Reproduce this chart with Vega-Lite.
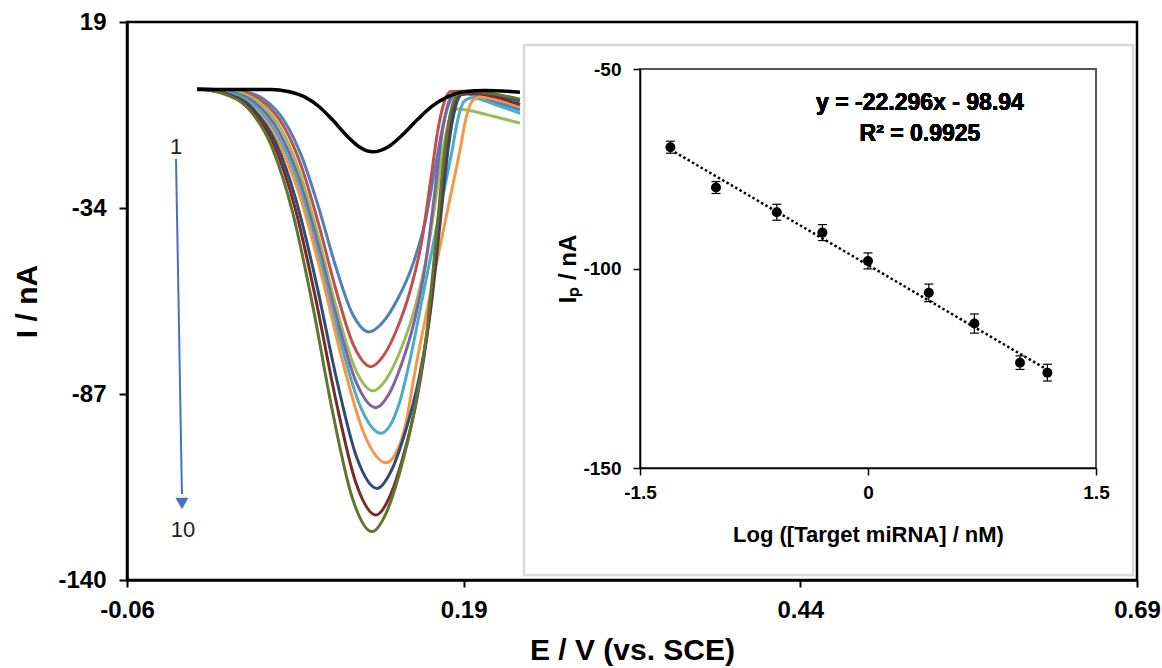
{
  "$schema": "https://vega.github.io/schema/vega-lite/v6.json",
  "width": 1010,
  "height": 558,
  "autosize": {"type": "none"},
  "padding": {"left": 127, "top": 22, "right": 25, "bottom": 88},
  "background": "white",
  "config": {
    "view": {"stroke": "black", "strokeWidth": 2.5},
    "font": "Liberation Sans",
    "axis": {"grid": false}
  },
  "datasets": {
    "curves": [
      {"s": 1, "E": -0.008, "I": 0}, {"s": 1, "E": 0.0259, "I": -0.8}, {"s": 1, "E": 0.0416, "I": -3.0}, {"s": 1, "E": 0.0572, "I": -9.4}, {"s": 1, "E": 0.0697, "I": -19.3}, {"s": 1, "E": 0.0822, "I": -33.7}, {"s": 1, "E": 0.0947, "I": -50.3}, {"s": 1, "E": 0.1072, "I": -64.0}, {"s": 1, "E": 0.1197, "I": -69.3}, {"s": 1, "E": 0.1301, "I": -66.5}, {"s": 1, "E": 0.1405, "I": -60.3}, {"s": 1, "E": 0.1524, "I": -49.9}, {"s": 1, "E": 0.1613, "I": -38.1}, {"s": 1, "E": 0.1687, "I": -22.9}, {"s": 1, "E": 0.1747, "I": -10.4}, {"s": 1, "E": 0.1791, "I": -4.2}, {"s": 1, "E": 0.1851, "I": -1.3}, {"s": 1, "E": 0.1940, "I": -1.6}, {"s": 1, "E": 0.2133, "I": -3.9}, {"s": 1, "E": 0.2318, "I": -6.0},
      {"s": 2, "E": -0.008, "I": 0}, {"s": 2, "E": 0.0241, "I": -0.9}, {"s": 2, "E": 0.0403, "I": -3.5}, {"s": 2, "E": 0.0564, "I": -10.7}, {"s": 2, "E": 0.0694, "I": -22.0}, {"s": 2, "E": 0.0823, "I": -38.6}, {"s": 2, "E": 0.0953, "I": -57.5}, {"s": 2, "E": 0.1082, "I": -73.1}, {"s": 2, "E": 0.1212, "I": -79.2}, {"s": 2, "E": 0.1306, "I": -76.0}, {"s": 2, "E": 0.1400, "I": -68.9}, {"s": 2, "E": 0.1507, "I": -57.0}, {"s": 2, "E": 0.1588, "I": -43.6}, {"s": 2, "E": 0.1655, "I": -26.1}, {"s": 2, "E": 0.1708, "I": -11.9}, {"s": 2, "E": 0.1748, "I": -4.8}, {"s": 2, "E": 0.1802, "I": -0.8}, {"s": 2, "E": 0.1883, "I": -0.7}, {"s": 2, "E": 0.2133, "I": -2.9}, {"s": 2, "E": 0.2318, "I": -4.5},
      {"s": 3, "E": -0.008, "I": 0}, {"s": 3, "E": 0.0207, "I": -0.9}, {"s": 3, "E": 0.0377, "I": -3.8}, {"s": 3, "E": 0.0547, "I": -11.6}, {"s": 3, "E": 0.0683, "I": -23.9}, {"s": 3, "E": 0.0819, "I": -41.9}, {"s": 3, "E": 0.0955, "I": -62.5}, {"s": 3, "E": 0.1091, "I": -79.5}, {"s": 3, "E": 0.1227, "I": -86.1}, {"s": 3, "E": 0.1327, "I": -82.7}, {"s": 3, "E": 0.1427, "I": -74.9}, {"s": 3, "E": 0.1541, "I": -62.0}, {"s": 3, "E": 0.1627, "I": -47.4}, {"s": 3, "E": 0.1698, "I": -30.1}, {"s": 3, "E": 0.1756, "I": -15.3}, {"s": 3, "E": 0.1799, "I": -8.2}, {"s": 3, "E": 0.1856, "I": -5.8}, {"s": 3, "E": 0.1941, "I": -6.2}, {"s": 3, "E": 0.2133, "I": -8.0}, {"s": 3, "E": 0.2318, "I": -9.8},
      {"s": 4, "E": -0.008, "I": 0}, {"s": 4, "E": 0.0171, "I": -1.0}, {"s": 4, "E": 0.0350, "I": -4.0}, {"s": 4, "E": 0.0530, "I": -12.3}, {"s": 4, "E": 0.0674, "I": -25.3}, {"s": 4, "E": 0.0818, "I": -44.2}, {"s": 4, "E": 0.0962, "I": -66.0}, {"s": 4, "E": 0.1105, "I": -83.9}, {"s": 4, "E": 0.1249, "I": -90.9}, {"s": 4, "E": 0.1341, "I": -87.3}, {"s": 4, "E": 0.1433, "I": -79.1}, {"s": 4, "E": 0.1539, "I": -65.4}, {"s": 4, "E": 0.1617, "I": -50.0}, {"s": 4, "E": 0.1684, "I": -30.0}, {"s": 4, "E": 0.1736, "I": -13.6}, {"s": 4, "E": 0.1776, "I": -5.5}, {"s": 4, "E": 0.1828, "I": -1.2}, {"s": 4, "E": 0.1907, "I": -1.0}, {"s": 4, "E": 0.2133, "I": -3.2}, {"s": 4, "E": 0.2318, "I": -5.0},
      {"s": 5, "E": -0.008, "I": 0}, {"s": 5, "E": 0.0137, "I": -1.1}, {"s": 5, "E": 0.0328, "I": -4.3}, {"s": 5, "E": 0.0520, "I": -13.3}, {"s": 5, "E": 0.0673, "I": -27.3}, {"s": 5, "E": 0.0826, "I": -47.8}, {"s": 5, "E": 0.0980, "I": -71.3}, {"s": 5, "E": 0.1133, "I": -90.6}, {"s": 5, "E": 0.1286, "I": -98.2}, {"s": 5, "E": 0.1353, "I": -96.0}, {"s": 5, "E": 0.1427, "I": -89.0}, {"s": 5, "E": 0.1502, "I": -77.2}, {"s": 5, "E": 0.1591, "I": -60.2}, {"s": 5, "E": 0.1665, "I": -46.0}, {"s": 5, "E": 0.1739, "I": -31.8}, {"s": 5, "E": 0.1814, "I": -17.6}, {"s": 5, "E": 0.1858, "I": -8.5}, {"s": 5, "E": 0.1903, "I": -3.6}, {"s": 5, "E": 0.1962, "I": -2.6}, {"s": 5, "E": 0.2021, "I": -3.0}, {"s": 5, "E": 0.2133, "I": -4.5}, {"s": 5, "E": 0.2318, "I": -7.0},
      {"s": 6, "E": -0.008, "I": 0}, {"s": 6, "E": 0.0107, "I": -1.2}, {"s": 6, "E": 0.0310, "I": -4.7}, {"s": 6, "E": 0.0512, "I": -14.4}, {"s": 6, "E": 0.0675, "I": -29.6}, {"s": 6, "E": 0.0837, "I": -51.9}, {"s": 6, "E": 0.0999, "I": -77.4}, {"s": 6, "E": 0.1161, "I": -98.4}, {"s": 6, "E": 0.1323, "I": -106.6}, {"s": 6, "E": 0.1390, "I": -104.3}, {"s": 6, "E": 0.1464, "I": -96.5}, {"s": 6, "E": 0.1539, "I": -80.5}, {"s": 6, "E": 0.1643, "I": -60.2}, {"s": 6, "E": 0.1724, "I": -45.0}, {"s": 6, "E": 0.1799, "I": -31.2}, {"s": 6, "E": 0.1873, "I": -17.4}, {"s": 6, "E": 0.1917, "I": -8.5}, {"s": 6, "E": 0.1962, "I": -3.6}, {"s": 6, "E": 0.2021, "I": -2.4}, {"s": 6, "E": 0.2073, "I": -2.6}, {"s": 6, "E": 0.2318, "I": -5.0},
      {"s": 7, "E": -0.008, "I": 0}, {"s": 7, "E": 0.0129, "I": -1.3}, {"s": 7, "E": 0.0317, "I": -5.0}, {"s": 7, "E": 0.0505, "I": -15.4}, {"s": 7, "E": 0.0655, "I": -31.7}, {"s": 7, "E": 0.0806, "I": -55.4}, {"s": 7, "E": 0.0956, "I": -82.7}, {"s": 7, "E": 0.1106, "I": -105.1}, {"s": 7, "E": 0.1257, "I": -113.9}, {"s": 7, "E": 0.1357, "I": -109.3}, {"s": 7, "E": 0.1456, "I": -99.1}, {"s": 7, "E": 0.1571, "I": -82.0}, {"s": 7, "E": 0.1656, "I": -62.6}, {"s": 7, "E": 0.1727, "I": -37.6}, {"s": 7, "E": 0.1785, "I": -17.1}, {"s": 7, "E": 0.1828, "I": -7.0}, {"s": 7, "E": 0.1885, "I": -1.7}, {"s": 7, "E": 0.1970, "I": -1.2}, {"s": 7, "E": 0.2318, "I": -3.5},
      {"s": 8, "E": -0.008, "I": 0}, {"s": 8, "E": 0.0120, "I": -1.3}, {"s": 8, "E": 0.0308, "I": -5.3}, {"s": 8, "E": 0.0496, "I": -16.4}, {"s": 8, "E": 0.0647, "I": -33.8}, {"s": 8, "E": 0.0797, "I": -59.1}, {"s": 8, "E": 0.0948, "I": -88.2}, {"s": 8, "E": 0.1099, "I": -112.2}, {"s": 8, "E": 0.1249, "I": -121.5}, {"s": 8, "E": 0.1347, "I": -116.6}, {"s": 8, "E": 0.1444, "I": -105.7}, {"s": 8, "E": 0.1557, "I": -87.5}, {"s": 8, "E": 0.1640, "I": -66.8}, {"s": 8, "E": 0.1710, "I": -40.1}, {"s": 8, "E": 0.1766, "I": -18.2}, {"s": 8, "E": 0.1808, "I": -7.4}, {"s": 8, "E": 0.1863, "I": -1.8}, {"s": 8, "E": 0.1947, "I": -1.3}, {"s": 8, "E": 0.2318, "I": -4.5},
      {"s": 9, "E": -0.008, "I": 0}, {"s": 9, "E": 0.0112, "I": -1.4}, {"s": 9, "E": 0.0297, "I": -5.5}, {"s": 9, "E": 0.0481, "I": -17.1}, {"s": 9, "E": 0.0629, "I": -35.1}, {"s": 9, "E": 0.0777, "I": -61.4}, {"s": 9, "E": 0.0924, "I": -91.6}, {"s": 9, "E": 0.1072, "I": -116.5}, {"s": 9, "E": 0.1219, "I": -126.2}, {"s": 9, "E": 0.1321, "I": -121.2}, {"s": 9, "E": 0.1422, "I": -109.8}, {"s": 9, "E": 0.1538, "I": -90.9}, {"s": 9, "E": 0.1626, "I": -69.4}, {"s": 9, "E": 0.1698, "I": -41.6}, {"s": 9, "E": 0.1756, "I": -18.9}, {"s": 9, "E": 0.1799, "I": -7.6}, {"s": 9, "E": 0.1857, "I": -1.6}, {"s": 9, "E": 0.1944, "I": -0.8}, {"s": 9, "E": 0.2318, "I": -3.0}
    ],
    "blank": [
      {"E": -0.008, "I": -0.2}, {"E": 0.0469, "I": -0.2}, {"E": 0.0596, "I": -0.8}, {"E": 0.0722, "I": -2.4}, {"E": 0.0823, "I": -5.0}, {"E": 0.0924, "I": -8.8}, {"E": 0.1025, "I": -13.1}, {"E": 0.1126, "I": -16.6}, {"E": 0.1227, "I": -18.0}, {"E": 0.1337, "I": -16.6}, {"E": 0.1447, "I": -13.1}, {"E": 0.1557, "I": -8.8}, {"E": 0.1666, "I": -5.0}, {"E": 0.1776, "I": -2.4}, {"E": 0.1914, "I": -0.8}, {"E": 0.2051, "I": -0.5}, {"E": 0.2318, "I": -1.0}
    ],
    "ip": [
      {"logc": -1.3, "ip": -69.6, "lo": -71.1, "hi": -68.1},
      {"logc": -1.0, "ip": -79.7, "lo": -81.2, "hi": -78.2},
      {"logc": -0.6, "ip": -85.9, "lo": -87.9, "hi": -83.9},
      {"logc": -0.3, "ip": -91.0, "lo": -93.0, "hi": -89.0},
      {"logc": 0.0, "ip": -98.1, "lo": -100.1, "hi": -96.1},
      {"logc": 0.4, "ip": -106.1, "lo": -108.3, "hi": -103.9},
      {"logc": 0.7, "ip": -113.8, "lo": -116.2, "hi": -111.4},
      {"logc": 1.0, "ip": -123.6, "lo": -125.3, "hi": -121.9},
      {"logc": 1.18, "ip": -126.1, "lo": -128.2, "hi": -124.0}
    ]
  },
  "layer": [
    {
      "layer": [
        {
          "data": {"name": "curves"},
          "mark": {"type": "line", "interpolate": "monotone", "strokeWidth": 3},
          "encoding": {
            "x": {
              "field": "E", "type": "quantitative",
              "scale": {"domain": [-0.06, 0.69], "nice": false, "zero": false},
              "axis": {
                "values": [-0.06, 0.19, 0.44, 0.69], "format": ".2f",
                "labelExpr": "replace(datum.label, '\u2212', '-')",
                "title": "E / V (vs. SCE)", "titleFontSize": 30, "titleFontWeight": "bold", "titleColor": "black",
                "titleY": 70, "titleBaseline": "middle",
                "labelFontSize": 24, "labelFontWeight": "bold", "labelColor": "black",
                "labelPadding": 11, "labelFlush": false, "labelOverlap": false,
                "tickSize": 7, "tickWidth": 2, "tickColor": "black",
                "domainColor": "black", "domainWidth": 2.5
              }
            },
            "y": {
              "field": "I", "type": "quantitative",
              "scale": {"domain": [-140, 19], "nice": false, "zero": false},
              "axis": {
                "values": [19, -34, -87, -140], "format": "d",
                "labelExpr": "replace(datum.label, '\u2212', '-')",
                "title": "I / nA", "titleFontSize": 30, "titleFontWeight": "bold", "titleColor": "black",
                "titleX": -100, "titleY": 279, "titleBaseline": "middle",
                "labelFontSize": 24, "labelFontWeight": "bold", "labelColor": "black",
                "labelPadding": 13, "labelOverlap": false, "labelFlush": false,
                "tickSize": 8, "tickWidth": 2, "tickColor": "black",
                "domainColor": "black", "domainWidth": 2.5
              }
            },
            "color": {
              "field": "s", "type": "nominal", "legend": null,
              "scale": {
                "domain": [1, 2, 3, 4, 5, 6, 7, 8, 9],
                "range": ["#4F81BD", "#C0504D", "#9BBB59", "#8064A2", "#4BACC6", "#F79646", "#2C4D75", "#772C2A", "#5F7530"]
              }
            }
          }
        },
        {
          "data": {"name": "blank"},
          "mark": {"type": "line", "interpolate": "monotone", "strokeWidth": 3.5, "color": "black"},
          "encoding": {
            "x": {"field": "E", "type": "quantitative"},
            "y": {"field": "I", "type": "quantitative"}
          }
        },
        {
          "data": {"values": [{}]},
          "mark": {"type": "rule", "color": "#4472C4", "strokeWidth": 2},
          "encoding": {
            "x": {"datum": -0.0236}, "y": {"datum": -20.0},
            "x2": {"datum": -0.0192}, "y2": {"datum": -115.5}
          }
        },
        {
          "data": {"values": [{}]},
          "mark": {"type": "point", "shape": "triangle-down", "filled": true, "color": "#4472C4", "size": 170, "opacity": 1},
          "encoding": {"x": {"datum": -0.0192}, "y": {"datum": -118.2}}
        },
        {
          "data": {"values": [{}]},
          "mark": {"type": "text", "text": "1", "fontSize": 22, "color": "#222222", "align": "center", "baseline": "middle"},
          "encoding": {"x": {"datum": -0.0236}, "y": {"datum": -16.6}}
        },
        {
          "data": {"values": [{}]},
          "mark": {"type": "text", "text": "10", "fontSize": 22, "color": "#222222", "align": "center", "baseline": "middle"},
          "encoding": {"x": {"datum": -0.0184}, "y": {"datum": -125.8}}
        },
        {
          "data": {"values": [{}]},
          "mark": {"type": "rect", "fill": "white", "stroke": "#d9d9d9", "strokeWidth": 2.5},
          "encoding": {
            "x": {"datum": 0.2348}, "x2": {"datum": 0.6871},
            "y": {"datum": -138.6}, "y2": {"datum": 12.45}
          }
        }
      ]
    },
    {
      "data": {"name": "ip"},
      "layer": [
        {
          "mark": {"type": "rect", "fill": null, "stroke": "#555555", "strokeWidth": 1.2},
          "encoding": {
            "x": {
              "datum": -1.5, "type": "quantitative",
              "scale": {"domain": [-1.5, 1.5], "range": [513, 969], "nice": false, "zero": false},
              "axis": {
                "orient": "bottom", "offset": -112, "zindex": 1,
                "values": [-1.5, 0, 1.5], "format": "~g",
                "labelExpr": "replace(datum.label, '\u2212', '-')",
                "title": "Log ([Target miRNA] / nM)", "titleFontSize": 22, "titleFontWeight": "bold", "titleColor": "black",
                "titleY": 66, "titleBaseline": "middle",
                "labelFontSize": 19, "labelFontWeight": "bold", "labelColor": "black",
                "labelPadding": 8, "labelFlush": false, "labelOverlap": false,
                "tickSize": 7, "tickWidth": 1.5, "tickColor": "black",
                "domainColor": "black", "domainWidth": 1.5
              }
            },
            "x2": {"datum": 1.5},
            "y": {
              "datum": -150, "type": "quantitative",
              "scale": {"domain": [-150, -50], "range": [446, 47], "nice": false, "zero": false},
              "axis": {
                "orient": "left", "offset": -513, "zindex": 1,
                "values": [-50, -100, -150], "format": "d",
                "labelExpr": "replace(datum.label, '\u2212', '-')",
                "title": "I\u209a / nA", "titleFontSize": 24, "titleFontWeight": "bold", "titleColor": "black",
                "titleX": -72, "titleBaseline": "middle",
                "labelFontSize": 19, "labelFontWeight": "bold", "labelColor": "black",
                "labelPadding": 12, "labelOverlap": false, "labelFlush": false,
                "tickSize": 7, "tickWidth": 1.5, "tickColor": "black",
                "domainColor": "black", "domainWidth": 1.5
              }
            },
            "y2": {"datum": -50}
          }
        },
        {
          "transform": [{"regression": "ip", "on": "logc", "extent": [-1.3, 1.18]}],
          "mark": {"type": "line", "color": "black", "strokeWidth": 2.5, "strokeDash": [2.5, 2.5]},
          "encoding": {
            "x": {"field": "logc", "type": "quantitative"},
            "y": {"field": "ip", "type": "quantitative"}
          }
        },
        {
          "mark": {"type": "rule", "color": "black", "strokeWidth": 1.2},
          "encoding": {
            "x": {"field": "logc", "type": "quantitative"},
            "y": {"field": "lo", "type": "quantitative"},
            "y2": {"field": "hi"}
          }
        },
        {
          "mark": {"type": "tick", "orient": "horizontal", "color": "black", "size": 9, "thickness": 1.2, "opacity": 1},
          "encoding": {
            "x": {"field": "logc", "type": "quantitative"},
            "y": {"field": "hi", "type": "quantitative"}
          }
        },
        {
          "mark": {"type": "tick", "orient": "horizontal", "color": "black", "size": 9, "thickness": 1.2, "opacity": 1},
          "encoding": {
            "x": {"field": "logc", "type": "quantitative"},
            "y": {"field": "lo", "type": "quantitative"}
          }
        },
        {
          "mark": {"type": "point", "filled": true, "color": "black", "size": 100, "opacity": 1},
          "encoding": {
            "x": {"field": "logc", "type": "quantitative"},
            "y": {"field": "ip", "type": "quantitative"}
          }
        },
        {
          "mark": {"type": "text", "text": "y = -22.296x - 98.94", "fontSize": 23, "fontWeight": "bold", "color": "black", "align": "center", "baseline": "middle"},
          "encoding": {"x": {"datum": 0.342}, "y": {"datum": -58.5}}
        },
        {
          "mark": {"type": "text", "text": "R\u00b2 = 0.9925", "fontSize": 23, "fontWeight": "bold", "color": "black", "align": "center", "baseline": "middle"},
          "encoding": {"x": {"datum": 0.342}, "y": {"datum": -66.3}}
        }
      ]
    }
  ],
  "resolve": {
    "scale": {"x": "independent", "y": "independent"},
    "axis": {"x": "independent", "y": "independent"}
  }
}
